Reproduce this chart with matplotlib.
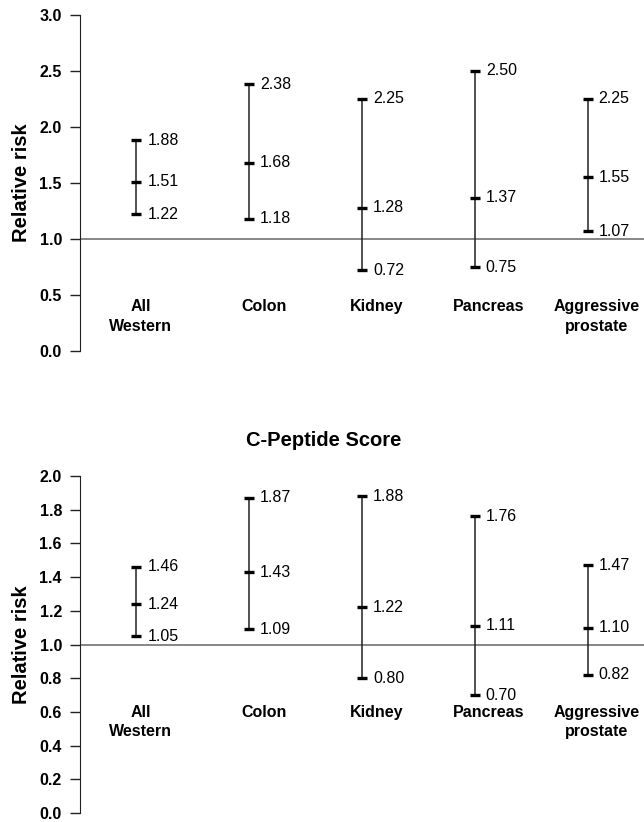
import matplotlib
matplotlib.use("Agg")
import matplotlib.pyplot as plt

plt.rcParams['font.family'] = ['Liberation Sans', 'DejaVu Sans']

# data
sites = ["All\nWestern", "Colon", "Kidney", "Pancreas", "Aggressive\nprostate"]

# top panel
top_rr = [1.51, 1.68, 1.28, 1.37, 1.55]
top_lo = [1.22, 1.18, 0.72, 0.75, 1.07]
top_hi = [1.88, 2.38, 2.25, 2.50, 2.25]
top_ticks = [0.0, 0.5, 1.0, 1.5, 2.0, 2.5, 3.0]

# bottom panel: C-Peptide Score
cp_rr = [1.24, 1.43, 1.22, 1.11, 1.10]
cp_lo = [1.05, 1.09, 0.80, 0.70, 0.82]
cp_hi = [1.46, 1.87, 1.88, 1.76, 1.47]
cp_ticks = [0.0, 0.2, 0.4, 0.6, 0.8, 1.0, 1.2, 1.4, 1.6, 1.8, 2.0]

label_dx = [0.04, 0.13, 0.13, 0.12, 0.08]   # small nudge of category names


def panel(ax, rr, lo, hi, ticks):
    xs = list(range(1, len(sites) + 1))
    ax.set_xlim(0.5, 5.5)
    ax.set_ylim(ticks[0], ticks[-1])
    ax.axhline(1.0, color="#666666", lw=1.1, zorder=1)
    for x, m, l, h in zip(xs, rr, lo, hi):
        ax.plot([x, x], [l, h], color="#222222", lw=1.1, zorder=2)
        ax.plot([x, x, x], [l, m, h], ls="none", marker="_", ms=7,
                mew=2.4, color="black", zorder=3)
        for v in (l, m, h):
            ax.annotate("%.2f" % v, (x, v), xytext=(11, 0),
                        textcoords="offset pixels", ha="left", va="center",
                        fontsize=11.5)
    for x, dx, name in zip(xs, label_dx, sites):
        ax.annotate(name, (x + dx, 1.0), xytext=(0, -60),
                    textcoords="offset pixels", ha="center", va="top",
                    fontsize=11.5, fontweight="bold", linespacing=1.4)
    for s in ["top", "right", "bottom"]:
        ax.spines[s].set_visible(False)
    ax.spines["left"].set_color("#222222")
    ax.set_xticks([])
    ax.set_yticks(ticks)
    ax.set_yticklabels(["%.1f" % t for t in ticks], fontweight="bold",
                       fontsize=11.5)
    ax.tick_params(axis="y", direction="out", length=7, width=1,
                   color="#222222", pad=6)
    ax.set_ylabel("Relative risk", fontsize=14.5, fontweight="bold")
    ax.yaxis.set_label_coords(-0.086, 0.5)


fig = plt.figure(figsize=(6.44, 8.22), dpi=100)
ax1 = fig.add_axes([80 / 644, 1 - 351 / 822, 564 / 644, 336 / 822])
ax2 = fig.add_axes([80 / 644, 1 - 813 / 822, 564 / 644, 337 / 822])

panel(ax1, top_rr, top_lo, top_hi, top_ticks)
panel(ax2, cp_rr, cp_lo, cp_hi, cp_ticks)

fig.text(0.503, 1 - 440 / 822, "C-Peptide Score", ha="center", va="center",
         fontsize=14.5, fontweight="bold")

fig.savefig("out.png", dpi=100)
